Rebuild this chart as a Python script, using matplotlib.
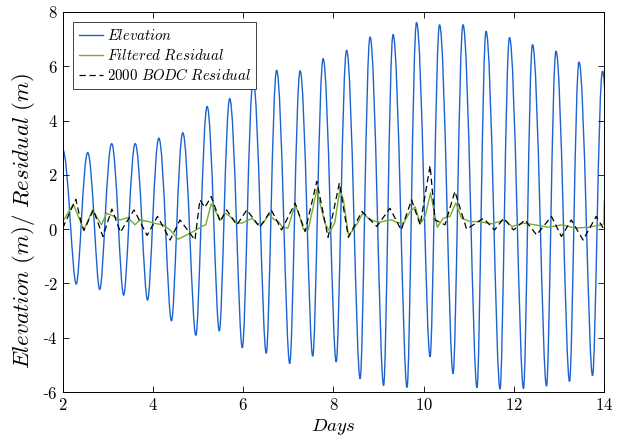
import matplotlib
matplotlib.use('Agg')
import matplotlib.pyplot as plt
from matplotlib.path import Path
from matplotlib.patches import PathPatch
from matplotlib.lines import Line2D

# Elevation: successive high / low waters (days, m)
elev_t = [2.00, 2.30, 2.554, 2.82, 3.085, 3.35, 3.607, 3.88, 4.13, 4.41, 4.66, 4.95,
          5.20, 5.47, 5.70, 5.98, 6.22, 6.51, 6.74, 7.03, 7.26, 7.54, 7.77, 8.06,
          8.29, 8.59, 8.81, 9.11, 9.32, 9.63, 9.84, 10.14, 10.35, 10.65, 10.87, 11.18,
          11.38, 11.69, 11.90, 12.21, 12.41, 12.72, 12.93, 13.23, 13.44, 13.74, 13.96, 14.25]
elev_v = [2.93, -2.02, 2.82, -2.22, 3.15, -2.43, 3.15, -2.61, 3.35, -3.38, 3.55, -3.91,
          4.52, -3.75, 4.81, -4.37, 5.48, -4.57, 5.85, -4.95, 5.83, -4.68, 6.28, -4.89,
          6.59, -5.51, 7.08, -5.76, 7.17, -5.83, 7.61, -4.70, 7.53, -5.32, 7.53, -5.84,
          7.29, -5.89, 7.06, -5.87, 6.80, -5.78, 6.56, -5.61, 6.16, -5.40, 5.82, -5.30]

# Filtered residual
filt_t = [2.00, 2.235, 2.47, 2.66, 2.86, 2.97, 3.14, 3.27, 3.45, 3.60, 3.71, 3.90, 4.08,
          4.22, 4.38, 4.56, 4.75, 4.89, 5.03, 5.10, 5.17, 5.29, 5.37, 5.49, 5.60, 5.71,
          5.82, 5.97, 6.08, 6.20, 6.30, 6.44, 6.57, 6.67, 6.78, 6.87, 6.99, 7.15, 7.24,
          7.33, 7.44, 7.63, 7.70, 7.81, 7.92, 8.03, 8.14, 8.22, 8.33, 8.44, 8.55, 8.65,
          8.77, 8.88, 9.03, 9.18, 9.29, 9.40, 9.55, 9.70, 9.81, 9.92, 10.03, 10.15, 10.25,
          10.30, 10.43, 10.58, 10.71, 10.84, 11.03, 11.21, 11.51, 11.80, 11.95, 12.21,
          12.47, 12.76, 13.06, 13.35, 13.65, 13.94, 13.99, 14.00]
filt_v = [0.28, 0.92, -0.03, 0.71, 0.16, 0.59, 0.47, 0.34, 0.43, 0.16, 0.34, 0.28, 0.20,
          0.16, -0.03, -0.37, -0.21, -0.09, 0.04, 0.12, 0.16, 0.93, 0.71, 0.34, 0.59, 0.47,
          0.25, 0.22, 0.31, 0.40, 0.20, 0.22, 0.55, 0.37, 0.28, 0.07, 0.04, 0.90, 0.53,
          0.00, -0.03, 1.45, 0.96, 0.22, -0.10, 0.25, 1.45, 1.08, -0.21, -0.03, 0.28, 0.59,
          0.40, 0.31, 0.25, 0.32, 0.34, 0.25, 0.22, 0.65, 0.83, 0.20, 0.47, 1.33, 0.47,
          0.07, 0.40, 0.47, 0.96, 0.40, 0.28, 0.28, 0.20, 0.34, 0.10, 0.22,
          0.16, 0.07, 0.16, 0.04, 0.07, 0.16, 0.20, 1.02]

# 2000 BODC residual
bodc_t = [2.00, 2.29, 2.40, 2.47, 2.68, 2.89, 3.09, 3.28, 3.58, 3.87, 4.10, 4.38, 4.60,
          4.93, 5.04, 5.15, 5.29, 5.49, 5.63, 5.86, 6.08, 6.37, 6.62, 6.85, 7.15, 7.37,
          7.63, 7.88, 8.13, 8.33, 8.63, 8.96, 9.25, 9.50, 9.73, 9.92, 10.14, 10.25, 10.47,
          10.69, 10.95, 11.32, 11.57, 11.77, 11.99, 12.24, 12.50, 12.83, 13.05, 13.27,
          13.53, 13.82, 14.00]
bodc_v = [0.04, 1.10, 0.30, -0.05, 0.71, -0.27, 0.74, -0.11, 0.71, -0.23, 0.47, -0.40, 0.34,
          -0.40, 1.08, 0.80, 1.20, 0.28, 0.71, 0.16, 0.71, 0.07, 0.71, -0.03, 0.96, -0.09,
          1.76, -0.30, 1.70, -0.30, 0.65, 0.10, 0.77, -0.03, 1.08, 0.16, 2.34, 0.34, 0.16,
          1.39, 0.00, 0.40, -0.03, 0.40, -0.03, 0.34, -0.21, 0.47, -0.27, 0.34,
          -0.40, 0.47, -0.03]

x_ticks = [2, 4, 6, 8, 10, 12, 14]
y_ticks = [-6, -4, -2, 0, 2, 4, 6, 8]

labels = [r'$Elevation$', r'$Filtered\ Residual$', r'$2000\ BODC\ Residual$']
c_elev = '#1c63d0'
c_filt = '#77ac30'
c_bodc = 'black'

plt.rcParams['mathtext.fontset'] = 'cm'
plt.rcParams['font.family'] = ['DejaVu Serif']

fig = plt.figure(figsize=(6.29, 4.44), dpi=100)
ax = fig.add_axes([0.0997, 0.117, 0.8610, 0.856])

# Elevation drawn as smooth bezier segments between successive extremes
k_hi, k_lo = 0.40, 0.30
verts = [(elev_t[0], elev_v[0])]
codes = [Path.MOVETO]
for i in range(len(elev_t) - 1):
    x0, y0, x1, y1 = elev_t[i], elev_v[i], elev_t[i + 1], elev_v[i + 1]
    dx = x1 - x0
    k0 = k_hi if y0 > y1 else k_lo
    k1 = k_hi if y1 > y0 else k_lo
    verts += [(x0 + k0 * dx, y0), (x1 - k1 * dx, y1), (x1, y1)]
    codes += [Path.CURVE4] * 3
ax.add_patch(PathPatch(Path(verts, codes), fill=False, edgecolor=c_elev, lw=1.0))

ax.plot(filt_t, filt_v, color=c_filt, lw=1.0)
ax.plot(bodc_t, bodc_v, color=c_bodc, lw=0.9, linestyle=(0, (5, 3)))

ax.set_xlim(2, 14)
ax.set_ylim(-6, 8)
ax.set_xticks(x_ticks)
ax.set_yticks(y_ticks)
ax.set_xticklabels([f'${v}$' for v in x_ticks], fontsize=12)
ax.set_yticklabels([f'${v}$' if v >= 0 else f'-${-v}$' for v in y_ticks], fontsize=12)
ax.tick_params(direction='in', top=True, right=True, length=4, width=0.6)
for s in ax.spines.values():
    s.set_linewidth(0.7)

ax.set_xlabel(r'$Days$', fontsize=13.5, labelpad=2)
ax.set_ylabel(r'$Elevation\ (m)/\ Residual\ (m)$', fontsize=16.5)
ax.yaxis.set_label_coords(-0.047, 0.45)

handles = [Line2D([], [], color=c_elev, lw=1.0),
           Line2D([], [], color=c_filt, lw=1.0),
           Line2D([], [], color=c_bodc, lw=0.9, linestyle=(0, (5, 3)))]
leg = ax.legend(handles, labels, loc='upper left', fontsize=10.7, fancybox=False,
                framealpha=1, edgecolor='#404040', handlelength=1.6,
                handletextpad=0.25, borderpad=0.4, labelspacing=0.3,
                borderaxespad=0.7)
leg.get_frame().set_linewidth(0.7)

fig.savefig('out.png', dpi=100)
